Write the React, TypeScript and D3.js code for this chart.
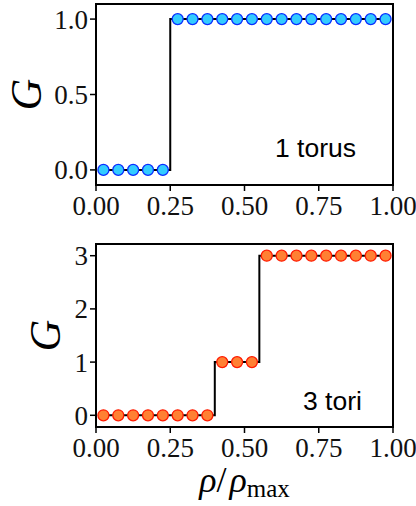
import * as d3 from "d3";

// data
const rho = [0.025, 0.075, 0.125, 0.175, 0.225, 0.275, 0.325, 0.375, 0.425, 0.475,
  0.525, 0.575, 0.625, 0.675, 0.725, 0.775, 0.825, 0.875, 0.925, 0.975];
const gTorus = [0, 0, 0, 0, 0, 1, 1, 1, 1, 1, 1, 1, 1, 1, 1, 1, 1, 1, 1, 1];
const gTori = [0, 0, 0, 0, 0, 0, 0, 0, 1, 1, 1, 3, 3, 3, 3, 3, 3, 3, 3, 3];
const xTicks = [0, 0.25, 0.5, 0.75, 1];
const yTicksTop = [0, 0.5, 1];
const yTicksBottom = [0, 1, 2, 3];

const serif = "'Liberation Serif', 'Times New Roman', serif";
const sans = "'Liberation Sans', Arial, sans-serif";

type PanelProps = {
  top: number;
  bottom: number;
  ys: number[];
  yDomain: [number, number];
  yTicks: number[];
  yFmt: (v: number) => string;
  label: string;
  labelX: number;
  labelY: number;
  gX: number;
  fill: string;
  stroke: string;
};

const left = 96;
const right = 393;

const Panel = (p: PanelProps) => {
  const x = d3.scaleLinear().domain([0, 1]).range([left, right]);
  const y = d3.scaleLinear().domain(p.yDomain).range([p.bottom, p.top]);
  const line = d3
    .line<number>()
    .x((_, i) => x(rho[i]))
    .y((d) => y(d))
    .curve(d3.curveStep);
  const midY = (p.top + p.bottom) / 2;
  return (
    <g>
      <path d={line(p.ys) ?? ""} fill="none" stroke="#000" strokeWidth={2} />
      {p.ys.map((v, i) => (
        <circle key={i} cx={x(rho[i])} cy={y(v)} r={5.5} fill={p.fill} stroke={p.stroke} strokeWidth={1.3} />
      ))}
      <rect x={left} y={p.top} width={right - left} height={p.bottom - p.top} fill="none" stroke="#000" strokeWidth={2} />
      {xTicks.map((t) => (
        <g key={t}>
          <line x1={x(t)} x2={x(t)} y1={p.bottom} y2={p.bottom + 6} stroke="#000" strokeWidth={1.5} />
          <text x={x(t)} y={p.bottom + 30} textAnchor="middle" fontFamily={serif} fontSize={27} fill="#111">
            {d3.format(".2f")(t)}
          </text>
        </g>
      ))}
      {p.yTicks.map((t) => (
        <g key={t}>
          <line x1={left - 6} x2={left} y1={y(t)} y2={y(t)} stroke="#000" strokeWidth={1.5} />
          <text x={88} y={y(t)} dy="0.35em" textAnchor="end" fontFamily={serif} fontSize={27} fill="#111">
            {p.yFmt(t)}
          </text>
        </g>
      ))}
      <text
        transform={`translate(${p.gX},${midY}) rotate(-90)`}
        textAnchor="middle"
        dy="0.35em"
        fontFamily={serif}
        fontStyle="italic"
        fontSize={44}
      >
        G
      </text>
      <text x={p.labelX} y={p.labelY} fontFamily={sans} fontSize={26.5}>
        {p.label}
      </text>
    </g>
  );
};

export default function App() {
  return (
    <svg width={416} height={506} style={{ position: "absolute", left: 0, top: 0, background: "#fff" }}>
      <Panel
        top={4}
        bottom={185}
        ys={gTorus}
        yDomain={[-0.1, 1.1]}
        yTicks={yTicksTop}
        yFmt={d3.format(".1f")}
        label="1 torus"
        labelX={275}
        labelY={157}
        gX={26}
        fill="#33ccff"
        stroke="#0a2eff"
      />
      <Panel
        top={244}
        bottom={427}
        ys={gTori}
        yDomain={[-0.22, 3.22]}
        yTicks={yTicksBottom}
        yFmt={d3.format("d")}
        label="3 tori"
        labelX={303}
        labelY={410}
        gX={45}
        fill="#ff8033"
        stroke="#ff1a00"
      />
      <text x={244.5} y={492} textAnchor="middle" fontFamily={serif} fontSize={36}>
        <tspan fontStyle="italic">ρ</tspan>
        <tspan>/</tspan>
        <tspan fontStyle="italic" dx={3}>ρ</tspan>
        <tspan fontSize={25} dy={5}>max</tspan>
      </text>
    </svg>
  );
}
